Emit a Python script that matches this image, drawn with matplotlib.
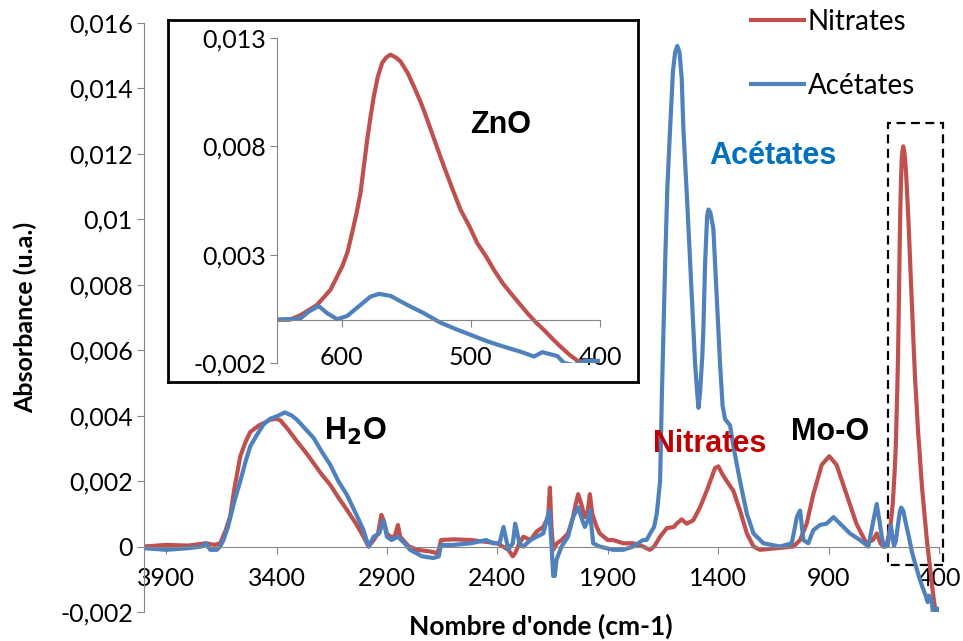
# Spectres IR : nitrates vs acétates, avec zoom sur la bande ZnO
import matplotlib.pyplot as plt
from matplotlib.patches import Rectangle

# Nombre d'onde (cm-1) et absorbance
nitrates_x = [4000, 3900, 3800, 3720, 3680, 3655, 3630, 3610, 3590, 3564, 3540, 3519,
              3480, 3450, 3429, 3400, 3383, 3350, 3308, 3270, 3232, 3195, 3157, 3120,
              3081, 3040, 3006, 2983, 2960, 2940, 2925, 2915, 2900, 2885, 2865, 2850,
              2840, 2800, 2760, 2705, 2675, 2665, 2655, 2600, 2520, 2460, 2400, 2350,
              2330, 2319, 2300, 2282, 2250, 2222, 2192, 2170, 2162, 2155, 2147, 2130,
              2109, 2080, 2057, 2045, 2034, 2020, 2004, 1990, 1981, 1970, 1950, 1936,
              1900, 1876, 1830, 1785, 1740, 1709, 1690, 1663, 1633, 1600, 1588, 1565,
              1543, 1513, 1482, 1452, 1414, 1399, 1380, 1361, 1331, 1301, 1270, 1240,
              1210, 1135, 1059, 1029, 999, 969, 931, 897, 864, 819, 774, 729, 699, 682,
              665, 651, 640, 632, 619, 608.7, 599.6, 595.5, 591.9, 588.5, 585.4, 582.7,
              580.2, 577.5, 575.1, 572, 568.6, 565.5, 562.2, 558, 554.4, 549, 544,
              538.5, 533.7, 527, 520.8, 514, 507.9, 501, 495, 488, 482.1, 475.5, 469.1,
              462.5, 456.2, 450, 443.3, 436.5, 430.4, 424, 417.4, 400]
nitrates_y = [0.0, 0.00005, 0.00003, 0.0001, 0.00005, 0.0001, 0.0005, 0.00092, 0.0018,
              0.00276, 0.0032, 0.0035, 0.0037, 0.0038, 0.00388, 0.0039, 0.00386, 0.0036,
              0.00322, 0.0029, 0.00255, 0.0022, 0.00189, 0.0015, 0.00112, 0.0007, 0.0003,
              0.0, 0.0002, 0.0004, 0.00097, 0.0008, 0.0004, 0.0003, 0.0003, 0.00066,
              0.0003, 0.0, -0.0001, -0.00015, -0.0002, -0.0001, 0.0002, 0.00022, 0.0002,
              0.00015, 0.0001, -0.0001, -0.0003, -0.0002, 0.0001, 0.0003, 0.0002, 0.00046,
              0.0006, 0.0009, 0.0018, 0.0006, -0.0001, 0.0001, 0.0002, 0.0004, 0.0009,
              0.0013, 0.0016, 0.0013, 0.0009, 0.0011, 0.0016, 0.001, 0.0006, 0.0004,
              0.0002, 0.0002, 0.0001, 0.0001, 0.0, -0.0001, 0.0, 0.0003, 0.00056, 0.0006,
              0.0007, 0.00083, 0.0007, 0.0008, 0.0012, 0.0017, 0.0024, 0.00245, 0.0022,
              0.002, 0.0017, 0.0011, 0.0004, 0.0, -0.0001, -0.00005, 0.0, 0.0002, 0.0007,
              0.0016, 0.0025, 0.00276, 0.0025, 0.0016, 0.0007, 0.0001, 0.0002, 0.0004,
              0.0001, 0.0, 0.0, 0.0002, 0.00068, 0.00137, 0.00245, 0.0031, 0.004, 0.0049,
              0.00584, 0.0071, 0.0083, 0.0094, 0.0103, 0.0112, 0.01185, 0.0121, 0.01223,
              0.0121, 0.01192, 0.0114, 0.01076, 0.0100, 0.00923, 0.0081, 0.00707, 0.006,
              0.00507, 0.0043, 0.00353, 0.0029, 0.0023, 0.0017, 0.00122, 0.00075, 0.0003,
              -0.0001, -0.00048, -0.0009, -0.00125, -0.0016, -0.0019, -0.0021]

acetates_x = [4000, 3900, 3800, 3740, 3720, 3700, 3670, 3655, 3640, 3620, 3590, 3564,
              3540, 3519, 3490, 3459, 3430, 3399, 3362, 3330, 3308, 3270, 3232, 3195,
              3157, 3120, 3081, 3040, 3006, 2983, 2960, 2935, 2915, 2900, 2880, 2850,
              2820, 2795, 2740, 2690, 2665, 2655, 2600, 2520, 2450, 2420, 2390, 2372,
              2350, 2330, 2319, 2300, 2282, 2250, 2222, 2192, 2165, 2155, 2147, 2140,
              2132, 2109, 2080, 2057, 2034, 2015, 2004, 1990, 1981, 1966, 1936, 1876,
              1830, 1785, 1740, 1724, 1708, 1690, 1678, 1663, 1655, 1640, 1630, 1617.7,
              1605, 1595, 1585, 1575, 1565, 1557.5, 1540, 1527, 1504.6, 1495, 1489, 1482,
              1472, 1467, 1459, 1450, 1444, 1435, 1421.7, 1406.7, 1391.6, 1380, 1369,
              1346, 1331, 1301, 1270, 1240, 1195, 1120, 1067, 1052, 1044, 1029, 1014,
              992, 969, 939, 909, 878, 848, 803, 758, 720, 700, 682, 670, 659, 650, 632,
              625.5, 617.7, 611.2, 603.5, 595.7, 585.4, 577.7, 571.2, 562.2, 549.2,
              536.4, 523.4, 513.1, 500.2, 487.2, 474.3, 461.4, 451.1, 444.6, 433, 427.8,
              420, 412, 400]
acetates_y = [-0.00005, -0.0001, -0.00005, 0.0, 0.0001, -0.0001, -0.0001, 0.0, 0.0002,
              0.0006, 0.0014, 0.002, 0.0026, 0.00306, 0.0034, 0.00373, 0.0039, 0.00398,
              0.0041, 0.004, 0.00388, 0.0036, 0.00332, 0.0029, 0.0025, 0.002, 0.00158,
              0.001, 0.0005, 0.0, 0.0003, 0.0004, 0.0008, 0.0003, 0.0002, 0.0003, 0.0001,
              -0.0001, -0.0003, -0.00035, -0.0003, 0.00005, 0.00005, 0.0001, 0.0002,
              0.0001, 0.0001, 0.0006, -0.0001, 0.0001, 0.0007, 0.0001, 0.0, 0.0002,
              0.0003, 0.0004, 0.0011, 0.0001, -0.0009, -0.0009, -0.0004, 0.0, 0.0003,
              0.0009, 0.0012, 0.0008, 0.0006, 0.0008, 0.0011, 0.0001, 0.0, -0.0001,
              -0.0001, 0.0, 0.0002, 0.0002, 0.0004, 0.0006, 0.001, 0.002, 0.0046, 0.00868,
              0.011, 0.01276, 0.0145, 0.0151, 0.0153, 0.0151, 0.0143, 0.01276, 0.0105,
              0.00868, 0.0056, 0.0047, 0.00424, 0.0047, 0.0058, 0.00664, 0.00868, 0.0101,
              0.0103, 0.0102, 0.0097, 0.00766, 0.0056, 0.0043, 0.0039, 0.0037, 0.00306,
              0.002, 0.001, 0.0004, 0.0001, 0.0, 0.0001, 0.0006, 0.0009, 0.0011, 0.0002,
              0.0001, 0.0005, 0.00066, 0.0007, 0.0009, 0.0007, 0.0004, 0.0002, 0.0, 0.0007,
              0.0013, 0.0008, 0.0003, 0.0, 0.00005, 0.00037, 0.00063, 0.0003, 0.00002,
              0.00017, 0.00068, 0.00106, 0.00119, 0.0011, 0.00068, 0.0003, -0.00014,
              -0.0004, -0.0007, -0.001, -0.00125, -0.00148, -0.0017, -0.0015, -0.00168,
              -0.002, -0.0021, -0.0019, -0.0019]

x_ticks = [3900, 3400, 2900, 2400, 1900, 1400, 900, 400]
y_ticks = [-0.002, 0, 0.002, 0.004, 0.006, 0.008, 0.01, 0.012, 0.014, 0.016]
y_labels = ['-0,002', '0', '0,002', '0,004', '0,006', '0,008', '0,01', '0,012',
            '0,014', '0,016']

zoom_x_ticks = [600, 500, 400]
zoom_y_ticks = [-0.002, 0.003, 0.008, 0.013]
zoom_y_labels = ['-0,002', '0,003', '0,008', '0,013']

ROUGE = '#C0504D'
BLEU = '#4F81BD'
GRIS = '#868686'
W, H = 963, 641

plt.rcParams['font.family'] = ['Lato', 'DejaVu Sans']


def px_box(x0, y0, x1, y1):
    # boîte en pixels (origine en haut à gauche) -> coordonnées figure
    return [x0 / W, 1 - y1 / H, (x1 - x0) / W, (y1 - y0) / H]


def style_axes(ax, tick_pad_x):
    ax.spines['top'].set_visible(False)
    ax.spines['right'].set_visible(False)
    ax.spines['left'].set_color(GRIS)
    ax.spines['bottom'].set_color(GRIS)
    ax.spines['bottom'].set_position(('data', 0))
    ax.tick_params(axis='both', direction='out', length=5, color=GRIS,
                   labelsize=18, labelcolor='black')
    ax.tick_params(axis='x', pad=tick_pad_x)
    ax.tick_params(axis='y', pad=3)


fig = plt.figure(figsize=(W / 100, H / 100), dpi=100)

# graphique principal
ax = fig.add_axes(px_box(144, 23, 939, 612))
ax.plot(nitrates_x, nitrates_y, color=ROUGE, lw=3, label='Nitrates')
ax.plot(acetates_x, acetates_y, color=BLEU, lw=3, label='Acétates')
ax.set_xlim(4000, 400)
ax.set_ylim(-0.002, 0.016)
ax.set_xticks(x_ticks)
ax.set_yticks(y_ticks)
ax.set_yticklabels(y_labels)
style_axes(ax, 10)

fig.text(25 / W, 1 - 317 / H, 'Absorbance (u.a.)', rotation=90, ha='center',
         va='center', fontsize=18, fontweight='bold')
fig.text(541 / W, 1 - 626 / H, "Nombre d'onde (cm-1)", ha='center', va='center',
         fontsize=19, fontweight='bold')

ax.legend(loc='upper left', bbox_to_anchor=(751 / W, 1 - 9 / H),
          bbox_transform=fig.transFigure, frameon=False, fontsize=20,
          handlelength=1.9, handletextpad=0.15, labelspacing=1.35, borderpad=0,
          borderaxespad=0)

annot = dict(fontsize=22, fontweight='bold', ha='center', va='center',
             family=['Liberation Sans', 'DejaVu Sans'])
ax.text(3044, 0.00351, r'H$_\mathbf{2}$O', color='black', **annot)
ax.text(1151, 0.01194, 'Acétates', color='#0070C0', **annot)
ax.text(1437, 0.00312, 'Nitrates', color='#C00000', **annot)
ax.text(893, 0.00351, 'Mo-O', color='black', **annot)

# cadre pointillé autour de la bande ZnO
ax.add_patch(Rectangle((382, -0.00056), 631 - 382, 0.01295 + 0.00056, fill=False,
                       ec='black', lw=1.6, ls=(0, (4, 2.5)), clip_on=False))

# encart : zoom sur 650-400 cm-1
cadre = fig.add_axes(px_box(168, 20, 638, 382))
cadre.set_xticks([])
cadre.set_yticks([])
for s in cadre.spines.values():
    s.set_color('black')
    s.set_linewidth(2)

axz = fig.add_axes(px_box(277, 38, 600, 363))
axz.patch.set_alpha(0)
axz.plot(nitrates_x, nitrates_y, color=ROUGE, lw=3)
axz.plot(acetates_x, acetates_y, color=BLEU, lw=3)
axz.set_xlim(650, 400)
axz.set_ylim(-0.002, 0.013)
axz.set_xticks(zoom_x_ticks)
axz.set_yticks(zoom_y_ticks)
axz.set_yticklabels(zoom_y_labels)
style_axes(axz, 14)
axz.text(477, 0.009, 'ZnO', color='black', **annot)

fig.savefig('out.png', dpi=100)
